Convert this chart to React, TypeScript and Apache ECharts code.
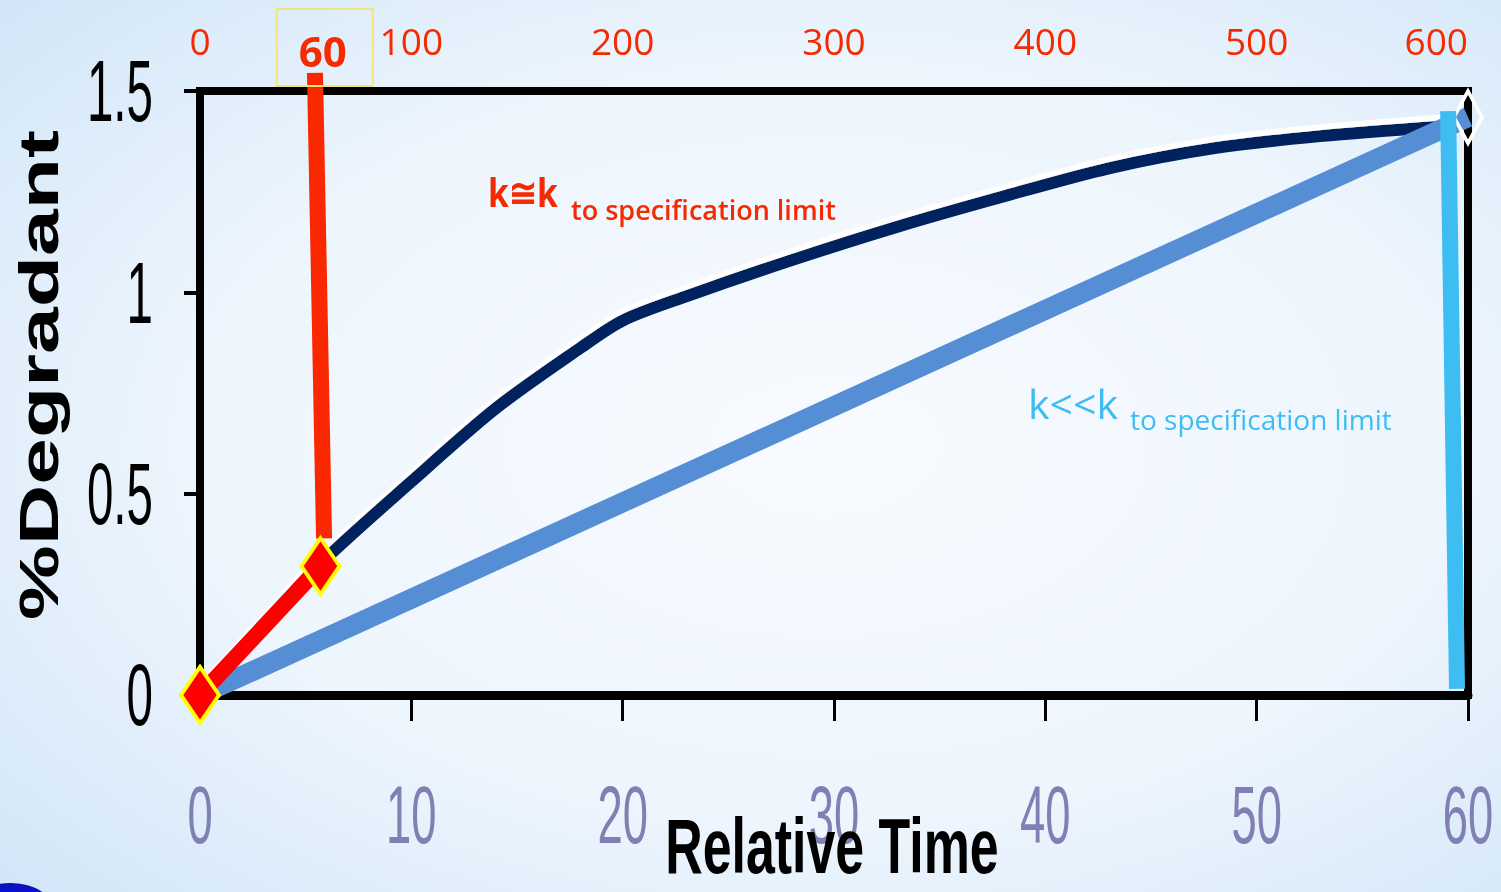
import React, { useEffect, useRef } from "react";
import * as echarts from "echarts";

// Axis ticks
const timeTicks = [0, 10, 20, 30, 40, 50, 60];
const degradantTicks = [0, 0.5, 1, 1.5];
const dayMax = 600;
const dayInterval = 100;
const highlightedDay = 60;

// Degradant growth when the rate matches the rate to the specification limit
const fastCurve: [number, number][] = [
  [0, 0],
  [2.8, 0.16],
  [5.7, 0.326],
  [10, 0.53],
  [14, 0.712],
  [18, 0.862],
  [20, 0.93],
  [23, 0.99],
  [28, 1.08],
  [33, 1.163],
  [38, 1.238],
  [43, 1.308],
  [48, 1.358],
  [53, 1.388],
  [58.8, 1.412],
];

// Degradant growth when the rate is much lower than the rate to the limit
const linearTrend: [number, number][] = [
  [0, 0],
  [60, 1.435],
];

// Early time points and the readout marker to the top scale
const earlyPoints: [number, number][] = [
  [0, 0],
  [5.7, 0.32],
];
const earlyReadout: [number, number][] = [
  [5.44, 1.545],
  [5.87, 0.389],
];
const lateReadout: [number, number][] = [
  [59.06, 1.45],
  [59.48, 0.015],
];

const RED = "#f52a00";
const CYAN = "#3dbdf2";

export default function App() {
  const ref = useRef<HTMLDivElement>(null);

  useEffect(() => {
    if (!ref.current) return;
    const chart = echarts.init(ref.current, undefined, { renderer: "svg" });

    const lastIdx = linearTrend.length - 1;

    chart.setOption({
      animation: false,
      backgroundColor: {
        type: "radial",
        x: 0.55,
        y: 0.5,
        r: 0.85,
        colorStops: [
          { offset: 0, color: "#f8fbff" },
          { offset: 0.5, color: "#edf5fd" },
          { offset: 1, color: "#c8e1f6" },
        ],
      },
      grid: {
        left: 200,
        right: 33,
        top: 91,
        bottom: 197,
        show: true,
        borderColor: "#000",
        borderWidth: 8,
        backgroundColor: "transparent",
      },
      xAxis: [
        {
          type: "value",
          position: "bottom",
          min: timeTicks[0],
          max: timeTicks[timeTicks.length - 1],
          interval: timeTicks[1] - timeTicks[0],
          axisLine: { show: true, lineStyle: { color: "#000", width: 9 } },
          axisTick: { show: true, length: 26, lineStyle: { color: "#000", width: 3 } },
          axisLabel: { show: false },
          splitLine: { show: false },
        },
        {
          type: "value",
          position: "top",
          min: 0,
          max: dayMax,
          interval: dayInterval,
          axisLine: { show: false },
          axisTick: { show: false },
          splitLine: { show: false },
          axisLabel: {
            color: RED,
            fontSize: 37,
            fontFamily: "Open Sans",
            margin: 32,
            alignMaxLabel: "right",
          },
        },
      ],
      yAxis: {
        type: "value",
        min: degradantTicks[0],
        max: degradantTicks[degradantTicks.length - 1],
        interval: degradantTicks[1] - degradantTicks[0],
        axisLine: { show: true, lineStyle: { color: "#000", width: 7 } },
        axisTick: { show: true, length: 16, lineStyle: { color: "#000", width: 4 } },
        axisLabel: { show: false },
        splitLine: { show: false },
      },
      series: [
        {
          type: "line",
          data: fastCurve,
          smooth: 0.3,
          symbol: "none",
          lineStyle: {
            color: "#00205f",
            width: 12,
            shadowColor: "#ffffff",
            shadowBlur: 1,
            shadowOffsetX: 1,
            shadowOffsetY: -6,
          },
          z: 2,
        },
        {
          type: "line",
          data: linearTrend.map((p, i) =>
            i === lastIdx
              ? {
                  value: p,
                  symbol: "diamond",
                  symbolSize: [28, 52],
                  itemStyle: { color: "rgba(0,0,0,0)", borderColor: "#ffffff", borderWidth: 4 },
                }
              : { value: p, symbol: "none" }
          ),
          lineStyle: { color: "#558ed5", width: 20 },
          itemStyle: { color: "#558ed5" },
          clip: false,
          z: 3,
        },
        {
          type: "line",
          data: earlyReadout,
          symbol: "none",
          lineStyle: { color: "#f92800", width: 16 },
          clip: false,
          z: 4,
        },
        {
          type: "line",
          data: earlyPoints,
          symbol: "diamond",
          symbolSize: [38, 56],
          showSymbol: true,
          lineStyle: { color: "#ff0000", width: 16 },
          itemStyle: { color: "#ff0000", borderColor: "#ffff00", borderWidth: 4 },
          clip: false,
          z: 5,
        },
        {
          type: "line",
          data: lateReadout,
          symbol: "none",
          lineStyle: { color: CYAN, width: 16 },
          clip: false,
          z: 5,
        },
      ],
    });

    const px = (v: number) => chart.convertToPixel({ xAxisIndex: 0 }, v) as number;
    const py = (v: number) => chart.convertToPixel({ yAxisIndex: 0 }, v) as number;
    const pxTop = (v: number) => chart.convertToPixel({ xAxisIndex: 1 }, v) as number;

    const x0 = px(0);
    const y0 = py(0);
    const yTop = py(degradantTicks[degradantTicks.length - 1]);

    const graphics: any[] = [];

    // Corner swoosh of the slide background
    graphics.push({
      type: "ellipse",
      shape: { cx: 10, cy: 905, rx: 40, ry: 22 },
      style: { fill: "#0a12c4" },
      z: 1,
    });

    // Condensed tick labels along the time axis
    timeTicks.forEach((t) => {
      graphics.push({
        type: "text",
        x: px(t),
        y: y0 + 120,
        scaleX: 0.56,
        style: {
          text: String(t),
          fontSize: 81,
          fontFamily: "Liberation Sans",
          fill: "#8080b4",
          align: "center",
          verticalAlign: "middle",
        },
        z: 10,
      });
    });

    // Condensed tick labels along the degradant axis
    degradantTicks.forEach((v) => {
      graphics.push({
        type: "text",
        x: x0 - 47,
        y: py(v),
        scaleX: 0.54,
        style: {
          text: String(v),
          fontSize: 88,
          fontFamily: "Liberation Sans",
          fill: "#000",
          align: "right",
          verticalAlign: "middle",
        },
        z: 10,
      });
    });

    // Axis titles
    graphics.push({
      type: "text",
      x: 38,
      y: (y0 + yTop) / 2 - 18,
      rotation: Math.PI / 2,
      scaleX: 1.5,
      style: {
        text: "%Degradant",
        fontSize: 56,
        fontWeight: "bold",
        fontFamily: "Liberation Sans",
        fill: "#000",
        align: "center",
        verticalAlign: "middle",
      },
      z: 10,
    });
    graphics.push({
      type: "text",
      x: 832,
      y: y0 + 151,
      scaleX: 0.665,
      style: {
        text: "Relative Time",
        fontSize: 78,
        lineHeight: 78,
        fontWeight: "bold",
        fontFamily: "Liberation Sans",
        fill: "#000",
        align: "center",
        verticalAlign: "middle",
      },
      z: 11,
    });

    // Highlighted readout on the top scale
    const hx = pxTop(highlightedDay);
    graphics.push({
      type: "rect",
      shape: { x: hx - 50, y: 9, width: 96, height: 77 },
      style: { fill: "none", stroke: "#f4e47e", lineWidth: 2 },
      z: 10,
    });
    graphics.push({
      type: "text",
      x: hx - 4,
      y: 50,
      style: {
        text: String(highlightedDay),
        fontSize: 42,
        fontWeight: "bold",
        fontFamily: "Open Sans",
        fill: RED,
        align: "center",
        verticalAlign: "middle",
      },
      z: 10,
    });

    // Rate annotations
    graphics.push({
      type: "text",
      x: 488,
      y: 192,
      scaleX: 0.84,
      style: {
        text: "k≅k",
        fontSize: 40,
        fontWeight: "bold",
        fontFamily: "Open Sans",
        fill: RED,
        align: "left",
        verticalAlign: "middle",
      },
      z: 10,
    });
    graphics.push({
      type: "text",
      x: 571,
      y: 209,
      style: {
        text: "to specification limit",
        fontSize: 27,
        fontWeight: 600,
        fontFamily: "Open Sans",
        fill: RED,
        align: "left",
        verticalAlign: "middle",
      },
      z: 10,
    });
    graphics.push({
      type: "text",
      x: 1028,
      y: 403,
      style: {
        text: "k<<k",
        fontSize: 41,
        fontFamily: "Open Sans",
        fill: CYAN,
        align: "left",
        verticalAlign: "middle",
      },
      z: 10,
    });
    graphics.push({
      type: "text",
      x: 1130,
      y: 419,
      style: {
        text: "to specification limit",
        fontSize: 28,
        fontFamily: "Open Sans",
        fill: CYAN,
        align: "left",
        verticalAlign: "middle",
      },
      z: 10,
    });

    chart.setOption({ graphic: graphics });

    return () => chart.dispose();
  }, []);

  return (
    <div
      ref={ref}
      style={{ position: "fixed", left: 0, top: 0, width: "100vw", height: "100vh" }}
    />
  );
}
